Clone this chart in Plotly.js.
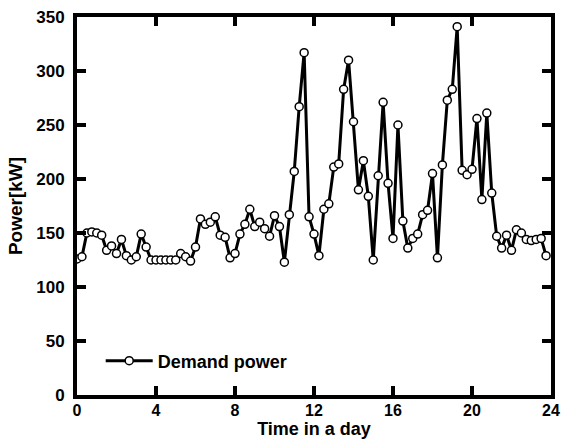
<!DOCTYPE html>
<html><head><meta charset="utf-8">
<script src="https://cdn.plot.ly/plotly-3.0.1.min.js"></script>
<style>html,body{margin:0;padding:0;background:#fff}#c{width:561px;height:441px}</style>
</head><body><div id="c"></div>
<script>
const seriesName = "Demand power";
const stepHours = 0.25;
const power = [
  126, 128, 150, 151, 150, 148, 134, 138, 131, 144, 129, 125, 128, 149, 137, 125,
  125, 125, 125, 125, 125, 131, 128, 124, 137, 163, 158, 160, 165, 148, 146, 127,
  131, 149, 158, 172, 156, 160, 154, 147, 166, 156, 123, 167, 207, 267, 317, 165,
  149, 129, 172, 177, 211, 214, 283, 310, 253, 190, 217, 184, 125, 203, 271, 196,
  145, 250, 161, 136, 145, 149, 167, 171, 205, 127, 213, 273, 283, 341, 208, 204,
  209, 256, 181, 261, 187, 147, 136, 148, 134, 153, 150, 144, 143, 144, 145, 129
];
const xTicks = [0, 4, 8, 12, 16, 20, 24];
const yTicks = [0, 50, 100, 150, 200, 250, 300, 350];
const time = power.map((_, i) => i * stepHours);

const fam = "Arial, 'Liberation Sans', sans-serif";
const tickFont = {family: fam, size: 17, color: "#000", weight: "bold"};
const xTickFont = {family: fam, size: 16, color: "#000", weight: "bold"};
const titleFont = {family: fam, size: 18, color: "#000", weight: "bold"};
const yTitleFont = {family: fam, size: 19, color: "#000", weight: "bold"};
const legendFont = {family: fam, size: 18, color: "#000", weight: "bold"};
const axisCommon = {
  showgrid: false, zeroline: false, showline: true, linecolor: "#000", linewidth: 4,
  mirror: "ticks", ticks: "inside", ticklen: 9, tickwidth: 4, tickcolor: "#000"
};
Plotly.newPlot("c", [{
  x: time, y: power, type: "scatter", mode: "lines+markers", name: seriesName,
  line: {color: "#000", width: 3},
  marker: {symbol: "circle", size: 8, color: "#fff", line: {color: "#000", width: 1.5}}
}], {
  width: 561, height: 441,
  margin: {l: 77, r: 10, t: 17, b: 46},
  paper_bgcolor: "#fff", plot_bgcolor: "#fff",
  font: tickFont,
  showlegend: true,
  legend: {x: 0.05, y: 0.09, xanchor: "left", yanchor: "middle", itemwidth: 47,
    bgcolor: "rgba(0,0,0,0)", font: legendFont},
  xaxis: Object.assign({}, axisCommon, {range: [0, 24], tickvals: xTicks,
    tickfont: xTickFont, ticklabelstandoff: -2,
    title: {text: "Time in a day", font: titleFont, standoff: 0}}),
  yaxis: Object.assign({}, axisCommon, {range: [0, 350], tickvals: yTicks,
    tickfont: tickFont, ticklabelstandoff: 5,
    title: {text: "Power[kW]", font: yTitleFont, standoff: 10}})
}, {displayModeBar: false, staticPlot: true});
</script>
</body></html>
